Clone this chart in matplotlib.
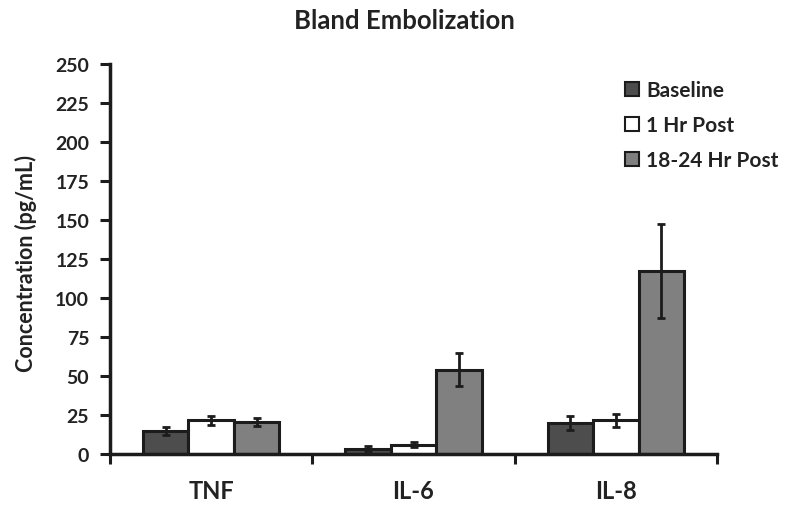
import matplotlib
matplotlib.use("Agg")
import matplotlib.pyplot as plt
import numpy as np

plt.rcParams['font.family'] = ['Lato', 'DejaVu Sans']
plt.rcParams['font.weight'] = 'bold'

categories = ["TNF", "IL-6", "IL-8"]
series_names = ["Baseline", "1 Hr Post", "18-24 Hr Post"]
baseline = [15, 3.5, 20]
baseline_err = [2.5, 1.5, 4.5]
hr1 = [21.5, 6, 21.5]
hr1_err = [3.0, 1.5, 4.0]
hr18 = [20.5, 54, 117.5]
hr18_err = [2.7, 10.5, 30]
yticks = [0, 25, 50, 75, 100, 125, 150, 175, 200, 225, 250]

colors = ["#4d4d4d", "#ffffff", "#808080"]
edge = "#1c1c1c"
txt = "#222222"

fig = plt.figure(figsize=(7.85, 5.10), dpi=100)
ax = fig.add_axes([110/785, 55/510, 607/785, 390/510])

x = np.arange(len(categories))
w = 0.225
for i, (vals, errs, c, name) in enumerate(zip([baseline, hr1, hr18],
                                             [baseline_err, hr1_err, hr18_err],
                                             colors, series_names)):
    ax.bar(x + (i - 1) * w, vals, w, color=c, edgecolor=edge, linewidth=2.2,
           label=name, zorder=2)
    ax.errorbar(x + (i - 1) * w, vals, yerr=errs, fmt='none', ecolor=edge,
                elinewidth=2, capsize=3, capthick=2, zorder=3)

ax.set_xlim(-0.5, 2.5)
ax.set_ylim(0, 250)
ax.set_yticks(yticks)
ax.set_yticklabels([str(t) for t in yticks], fontsize=14, fontweight='bold', color=txt)
ax.set_xticks([-0.5, 0.5, 1.5, 2.5])
ax.set_xticklabels([])
ax.set_xticks(x, minor=True)
ax.set_xticklabels(categories, minor=True, fontsize=17, fontweight='bold', color=txt)
ax.tick_params(axis='x', which='minor', length=0, pad=18)
ax.tick_params(axis='x', which='major', length=7, width=2.2, color=edge, direction='out')
ax.tick_params(axis='y', length=7, width=2.2, color=edge, direction='out', pad=8)

for s in ['top', 'right']:
    ax.spines[s].set_visible(False)
for s in ['left', 'bottom']:
    ax.spines[s].set_linewidth(2.5)
    ax.spines[s].set_color(edge)

fig.text(26/785, 1 - 263/510, "Concentration (pg/mL)", rotation=90, ha='center', va='center',
         fontsize=15.5, fontweight='bold', color=txt)
fig.text(404/785, 1 - 21/510, "Bland Embolization", ha='center', va='center',
         fontsize=18.5, fontweight='bold', color=txt)

leg = ax.legend(loc='upper left', bbox_to_anchor=(0.834, 0.98), frameon=False,
                fontsize=15, handlelength=0.7, handleheight=0.7, handletextpad=0.35,
                labelspacing=0.72, borderaxespad=0)
for t in leg.get_texts():
    t.set_fontweight('bold')
    t.set_color(txt)
for h in leg.legend_handles:
    h.set_linewidth(1.5)

fig.savefig("out.png", dpi=100, facecolor='white')
